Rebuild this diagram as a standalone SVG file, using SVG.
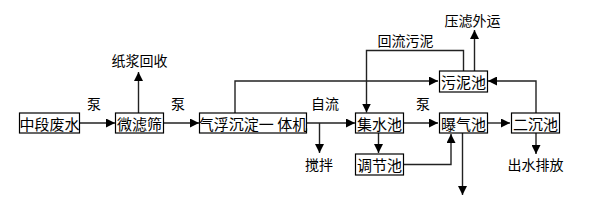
<svg xmlns="http://www.w3.org/2000/svg" width="596" height="208" viewBox="0 0 596 208">
<style>
.box{fill:#fff;stroke:#000;stroke-width:1.2}
.t{font-family:"Noto Sans CJK SC","Noto Sans CJK TC",sans-serif;font-size:15px;fill:#000;text-anchor:middle;dominant-baseline:central}
.l{font-family:"Noto Sans CJK SC","Noto Sans CJK TC",sans-serif;font-size:14px;fill:#000;text-anchor:middle;dominant-baseline:central}
.c{fill:none;stroke:#222;stroke-width:1.4}
</style>
<defs>
<marker id="a" viewBox="0 0 10 10" refX="10" refY="5" markerWidth="9" markerHeight="9" markerUnits="userSpaceOnUse" orient="auto"><path d="M0,0L10,5L0,10z" fill="#000"/></marker>
</defs>
<rect width="596" height="208" fill="#fff"/>
<g id="connectors">
<line class="c" x1="79" y1="123" x2="115" y2="123" marker-end="url(#a)"/>
<line class="c" x1="138.5" y1="113" x2="138.5" y2="72" marker-end="url(#a)"/>
<line class="c" x1="163" y1="123" x2="199" y2="123" marker-end="url(#a)"/>
<polyline class="c" points="235,113 235,81 438,81" marker-end="url(#a)"/>
<polyline class="c" points="463.5,71 463.5,50.5 366.5,50.5 366.5,112.5" marker-end="url(#a)"/>
<line class="c" x1="474.5" y1="71" x2="474.5" y2="30" marker-end="url(#a)"/>
<polyline class="c" points="536,113 536,81 488,81" marker-end="url(#a)"/>
<line class="c" x1="307" y1="123" x2="355" y2="123" marker-end="url(#a)"/>
<line class="c" x1="319.5" y1="123" x2="319.5" y2="153" marker-end="url(#a)"/>
<line class="c" x1="403" y1="123" x2="438" y2="123" marker-end="url(#a)"/>
<line class="c" x1="378.5" y1="133" x2="378.5" y2="153" marker-end="url(#a)"/>
<polyline class="c" points="403,164.5 451,164.5 451,134" marker-end="url(#a)"/>
<line class="c" x1="462.5" y1="133" x2="462.5" y2="195" marker-end="url(#a)"/>
<line class="c" x1="487" y1="123" x2="510" y2="123" marker-end="url(#a)"/>
<line class="c" x1="536" y1="133" x2="536" y2="154" marker-end="url(#a)"/>
</g>
<g id="n1"><rect class="box" x="19.5" y="113" width="60" height="20"/><text class="t" x="49.5" y="123">中段废水</text></g>
<g id="n2"><rect class="box" x="115.5" y="113" width="48" height="20"/><text class="t" x="139.5" y="123">微滤筛</text></g>
<g id="n3"><rect class="box" x="199.5" y="113" width="107" height="20"/><text class="t" x="253" y="123" xml:space="preserve">气浮沉淀一 体机</text></g>
<g id="n4"><rect class="box" x="355.5" y="113" width="48" height="20"/><text class="t" x="379.5" y="123">集水池</text></g>
<g id="n5"><rect class="box" x="439.5" y="113" width="48" height="20"/><text class="t" x="463.5" y="123">曝气池</text></g>
<g id="n6"><rect class="box" x="511.5" y="113" width="48" height="20"/><text class="t" x="535.5" y="123">二沉池</text></g>
<g id="n7"><rect class="box" x="439.5" y="71" width="48" height="21"/><text class="t" x="463.5" y="81.5">污泥池</text></g>
<g id="n8"><rect class="box" x="355.5" y="154" width="48" height="21"/><text class="t" x="379.5" y="164.5">调节池</text></g>
<g id="labels">
<text class="l" x="94" y="102.5">泵</text>
<text class="l" x="178" y="102.5">泵</text>
<text class="l" x="139.5" y="60">纸浆回收</text>
<text class="l" x="325" y="102.5">自流</text>
<text class="l" x="423" y="102.5">泵</text>
<text class="l" x="319" y="163.5">搅拌</text>
<text class="l" x="405.5" y="40">回流污泥</text>
<text class="l" x="472.5" y="20">压滤外运</text>
<text class="l" x="535.5" y="163.5">出水排放</text>
</g>
</svg>
